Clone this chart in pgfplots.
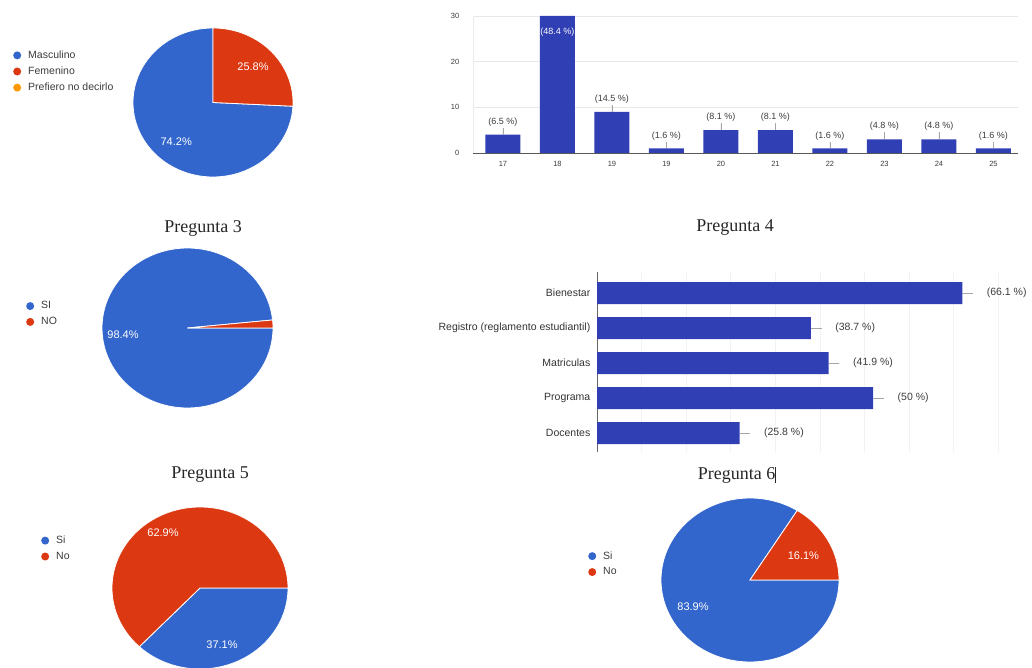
\documentclass[border=0pt]{standalone}
\usepackage{fontspec}
\setmainfont{Liberation Sans}
\newfontfamily\seriffont{Liberation Serif}
\usepackage{pgfplots}
\usepackage{pgfplotstable}
\pgfplotsset{compat=1.18}
\definecolor{gblue}{RGB}{51,102,204}
\definecolor{gred}{RGB}{220,57,18}
\definecolor{gorange}{RGB}{255,153,0}
\definecolor{gbar}{RGB}{48,63,180}
\definecolor{txt}{RGB}{60,60,60}

\pgfplotsset{
  pie/.style={hide axis, scale only axis, xmin=-1, xmax=1, ymin=-1, ymax=1,
    clip=false, anchor=center,
    legend image code/.code={\fill[##1, draw=none] (0pt,0pt) circle (4pt);},
    legend style={draw=none, fill=none, font=\fontsize{10.5}{12}\selectfont,
      text=txt, inner sep=0pt, row sep=2pt, anchor=west,
      nodes={inner sep=2.5pt},
      /tikz/every odd column/.style={column sep=4.5pt}},
    legend cell align=left},
  slice/.style={draw=white, line width=0.8pt, samples=120, forget plot},
}
\tikzset{plabel/.style={text=white, font=\fontsize{11}{13}\selectfont}}

% age distribution (counts), error = stem length, label
\pgfplotstableread[col sep=comma]{
x,y,e,l
0,4,1.5,(6.5 \%)
1,30,0,{}
2,9,1.5,(14.5 \%)
3,1,1.5,(1.6 \%)
4,5,1.5,(8.1 \%)
5,5,1.5,(8.1 \%)
6,1,1.5,(1.6 \%)
7,3,1.5,(4.8 \%)
8,3,1.5,(4.8 \%)
9,1,1.5,(1.6 \%)
}\agedata

% Pregunta 4 (counts)
\pgfplotstableread[col sep=comma]{
y,x,e,l
0,16,1.2,(25.8 \%)
1,31,1.2,(50 \%)
2,26,1.2,(41.9 \%)
3,24,1.2,(38.7 \%)
4,41,1.2,(66.1 \%)
}\pfour

\begin{document}
\begin{tikzpicture}[x=1pt,y=1pt]
\path[use as bounding box] (0,0) rectangle (1032,668);

% ---------- Pie 1 : Masculino 74.2, Femenino 25.8, Prefiero no decirlo 0
\begin{axis}[pie, width=160pt, height=149pt, at={(213pt,565.5pt)},
  legend style={at={(axis cs:-2.5,0.416)}}]
\addplot[slice, fill=gblue, domain=90:357.12] ({cos(x)},{sin(x)}) -- (axis cs:0,0) -- cycle;
\addplot[slice, fill=gred, domain=-2.88:90] ({cos(x)},{sin(x)}) -- (axis cs:0,0) -- cycle;
\node[plabel] at (axis cs:0.5,0.48) {25.8\%};
\node[plabel] at (axis cs:-0.46,-0.53) {74.2\%};
\addlegendimage{fill=gblue}\addlegendentry{Masculino}
\addlegendimage{fill=gred}\addlegendentry{Femenino}
\addlegendimage{fill=gorange}\addlegendentry{Prefiero no decirlo}
\end{axis}

% ---------- Bar chart: ages
\begin{axis}[at={(473pt,515pt)}, anchor=south west, scale only axis,
  width=545pt, height=137pt, xmin=-0.55, xmax=9.45, ymin=0, ymax=30,
  ybar, bar width=35pt, bar shift=0pt,
  xtick={0,...,9}, xticklabels={17,18,19,19,20,21,22,23,24,25},
  ytick={0,10,20,30}, ymajorgrids, grid style={gray!18},
  axis lines=left, axis line style={-},
  x axis line style={black!65, line width=0.8pt},
  y axis line style={gray!15},
  tick style={draw=none},
  /pgf/number format/assume math mode=true,
  tick label style={font=\fontsize{7.5}{9}\selectfont, text=txt},
  xticklabel style={yshift=-3pt},
  yticklabel style={xshift=-8pt},
  clip=false]
\addplot[fill=gbar, draw=none, nodes near coords,
  point meta=explicit symbolic,
  nodes near coords style={font=\fontsize{9}{10}\selectfont, text=txt, anchor=south, yshift=5pt},
  error bars/.cd, y dir=plus, y explicit, error mark=none,
  error bar style={gray!70, line width=0.6pt}]
  table[x=x, y=y, y error=e, meta=l] {\agedata};
\addplot[draw=none, fill=none, nodes near coords={(48.4 \%)},
  nodes near coords style={font=\fontsize{9}{10}\selectfont, text=white, anchor=center, yshift=-16pt}]
  coordinates {(1,30)};
\end{axis}

% ---------- Pie 3 : SI 98.4, NO 1.6
\node[font=\seriffont\fontsize{18}{21}\selectfont, text=black!85] at (203,440) {Pregunta 3};
\begin{axis}[pie, width=171pt, height=160pt, at={(187.5pt,340pt)},
  legend style={at={(axis cs:-1.889,0.175)}}]
\addplot[slice, fill=gblue, domain=5.76:360] ({cos(x)},{sin(x)}) -- (axis cs:0,0) -- cycle;
\addplot[slice, fill=gred, domain=0:5.76] ({cos(x)},{sin(x)}) -- (axis cs:0,0) -- cycle;
\node[plabel] at (axis cs:-0.754,-0.0875) {98.4\%};
\addlegendimage{fill=gblue}\addlegendentry{SI}
\addlegendimage{fill=gred}\addlegendentry{NO}
\end{axis}

% ---------- Pregunta 4
\node[font=\seriffont\fontsize{18}{21}\selectfont, text=black!85] at (735,440) {Pregunta 4};
\begin{axis}[at={(597pt,216pt)}, anchor=south west, scale only axis,
  width=433pt, height=180pt, xmin=0, xmax=48.6, ymin=-0.54, ymax=4.6,
  xbar, bar width=22pt, bar shift=0pt,
  ytick={0,...,4},
  yticklabels={Docentes,Programa,Matriculas,Registro (reglamento estudiantil),Bienestar},
  xtick={5,10,...,45}, xticklabels={},
  xmajorgrids, grid style={gray!10},
  axis lines=left, axis line style={-},
  x axis line style={draw=none},
  y axis line style={black!60, line width=0.8pt},
  tick style={draw=none},
  yticklabel style={font=\fontsize{10.5}{12}\selectfont, text=black!80, xshift=-1pt},
  clip=false]
\addplot[fill=gbar, draw=none, nodes near coords,
  point meta=explicit symbolic,
  nodes near coords style={font=\fontsize{10.5}{12}\selectfont, text=txt, anchor=west, xshift=21pt},
  error bars/.cd, x dir=plus, x explicit, error mark=none,
  error bar style={gray!70, line width=0.6pt}]
  table[x=x, y=y, x error=e, meta=l] {\pfour};
\end{axis}

% ---------- Pie 5 : Si 37.1, No 62.9
\node[font=\seriffont\fontsize{18}{21}\selectfont, text=black!85] at (210,193) {Pregunta 5};
\begin{axis}[pie, width=176pt, height=162pt, at={(200pt,80pt)},
  legend style={at={(axis cs:-1.807,0.488)}}]
\addplot[slice, fill=gblue, domain=-133.56:0] ({cos(x)},{sin(x)}) -- (axis cs:0,0) -- cycle;
\addplot[slice, fill=gred, domain=0:226.44] ({cos(x)},{sin(x)}) -- (axis cs:0,0) -- cycle;
\node[plabel] at (axis cs:-0.42,0.68) {62.9\%};
\node[plabel] at (axis cs:0.25,-0.70) {37.1\%};
\addlegendimage{fill=gblue}\addlegendentry{Si}
\addlegendimage{fill=gred}\addlegendentry{No}
\end{axis}

% ---------- Pie 6 : Si 83.9, No 16.1
\node[font=\seriffont\fontsize{18}{21}\selectfont, text=black!85] at (737,193) {Pregunta 6\rule[-3pt]{0.6pt}{16pt}};
\begin{axis}[pie, width=178pt, height=164pt, at={(750pt,88pt)},
  legend style={at={(axis cs:-1.82,0.195)}}]
\addplot[slice, fill=gblue, domain=57.96:360] ({cos(x)},{sin(x)}) -- (axis cs:0,0) -- cycle;
\addplot[slice, fill=gred, domain=0:57.96] ({cos(x)},{sin(x)}) -- (axis cs:0,0) -- cycle;
\node[plabel] at (axis cs:0.6,0.3) {16.1\%};
\node[plabel] at (axis cs:-0.64,-0.33) {83.9\%};
\addlegendimage{fill=gblue}\addlegendentry{Si}
\addlegendimage{fill=gred}\addlegendentry{No}
\end{axis}
\end{tikzpicture}
\end{document}
